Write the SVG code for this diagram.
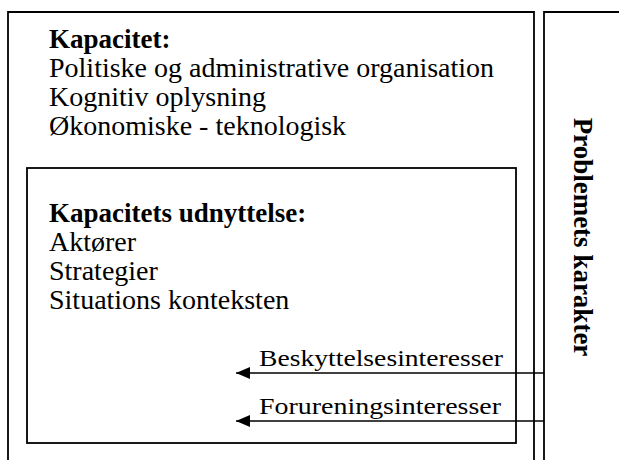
<svg xmlns="http://www.w3.org/2000/svg" width="619" height="460" viewBox="0 0 619 460">
<defs>
<style>
.box{fill:none;stroke:#000;stroke-width:1.8}
.t{font-family:"Liberation Serif","Times New Roman",serif;font-size:28px;fill:#000}
.b{font-weight:bold;font-size:27px}
.lbl{font-family:"Liberation Serif","Times New Roman",serif;font-size:23px;fill:#000}
.conn{stroke:#000;stroke-width:1.6;fill:none}
</style>
<marker id="ah" viewBox="0 0 14 12" refX="14" refY="6" markerWidth="14" markerHeight="12" markerUnits="userSpaceOnUse" orient="auto">
<path d="M0,0 L14,6 L0,12 z" fill="#000"/>
</marker>
</defs>
<rect width="619" height="460" fill="#fff"/>
<g id="kapacitet">
<path class="box" d="M8,470 V12 H534 V470"/>
<text class="t b" x="49" y="48">Kapacitet:</text>
<text class="t" x="49" y="77">Politiske og administrative organisation</text>
<text class="t" x="49" y="106">Kognitiv oplysning</text>
<text class="t" x="49" y="135">Økonomiske - teknologisk</text>
</g>
<g id="udnyttelse">
<rect class="box" x="27" y="168" width="489" height="275"/>
<text class="t b" x="49" y="222">Kapacitets udnyttelse:</text>
<text class="t" x="49" y="251">Aktører</text>
<text class="t" x="49" y="280">Strategier</text>
<text class="t" x="49" y="309">Situations konteksten</text>
</g>
<g id="problem">
<path class="box" d="M544,470 V12 H630"/>
<text class="t b" transform="translate(574,237) rotate(90)" text-anchor="middle">Problemets karakter</text>
</g>
<g id="connectors">
<line class="conn" x1="544" y1="373" x2="236" y2="373" marker-end="url(#ah)"/>
<line class="conn" x1="544" y1="421" x2="236" y2="421" marker-end="url(#ah)"/>
<text class="lbl" x="259" y="366" textLength="244" lengthAdjust="spacingAndGlyphs">Beskyttelsesinteresser</text>
<text class="lbl" x="259" y="414" textLength="242" lengthAdjust="spacingAndGlyphs">Forureningsinteresser</text>
</g>
</svg>
